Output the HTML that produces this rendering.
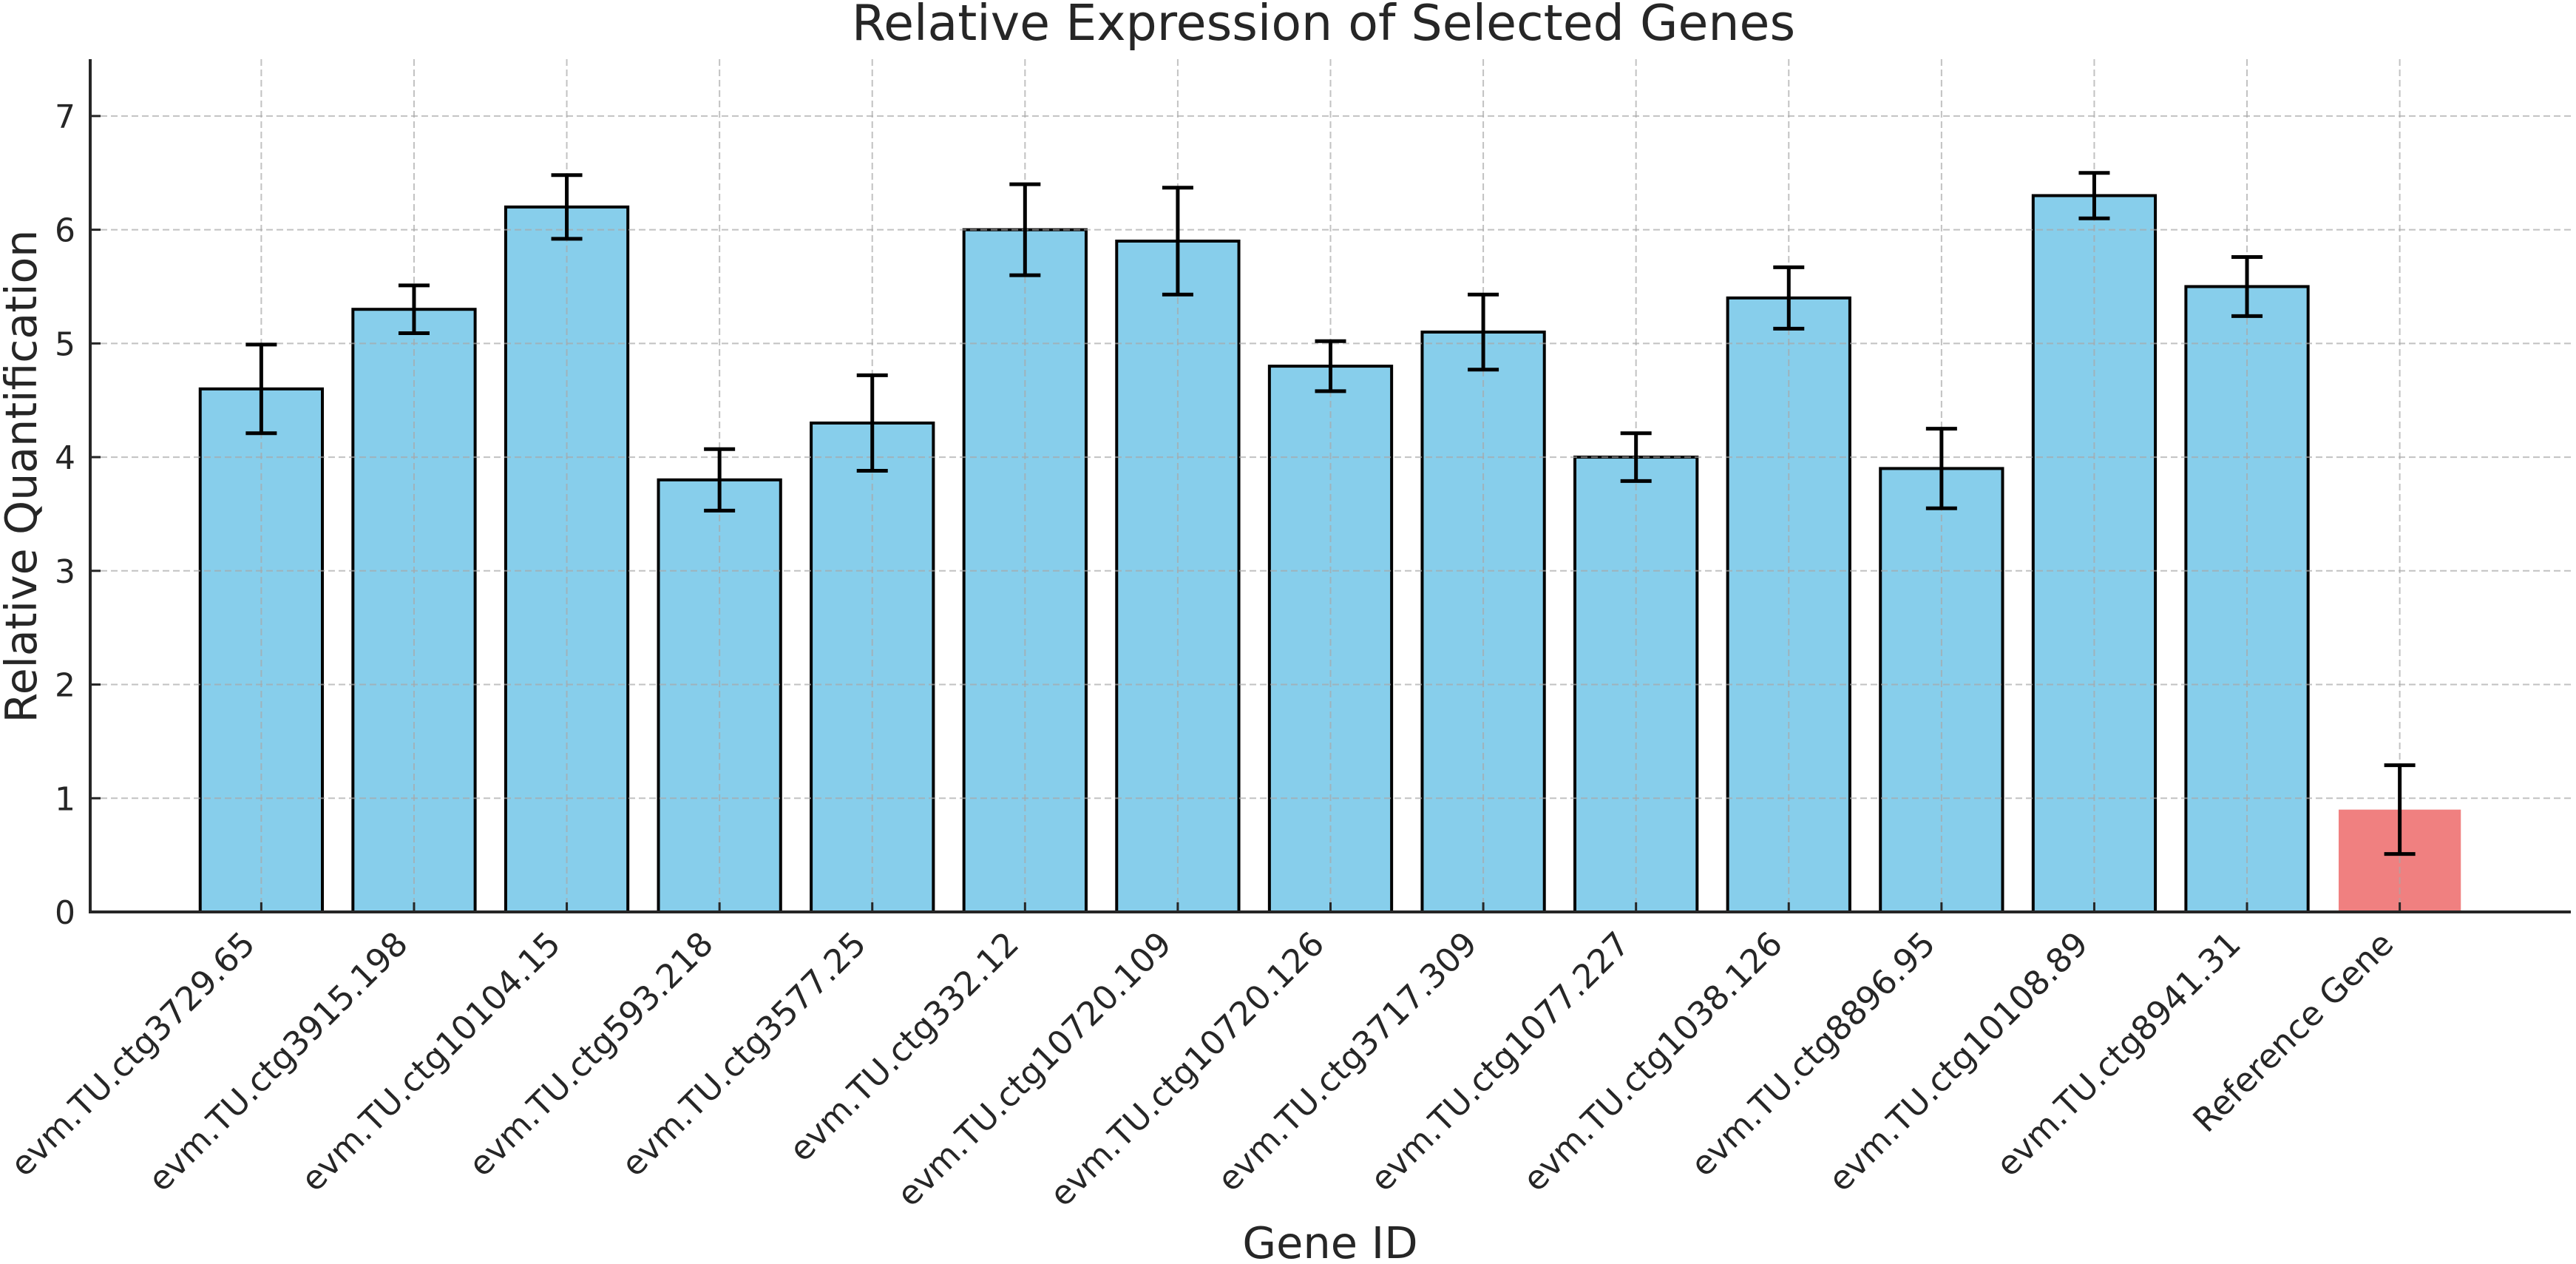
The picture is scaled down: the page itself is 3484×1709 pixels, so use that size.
<!DOCTYPE html>
<html><head><meta charset="utf-8"><style>
html,body{margin:0;padding:0;background:#fff;}
svg{display:block;font-family:"DejaVu Sans","Liberation Sans",sans-serif;}
</style></head><body>
<svg id="chart" width="3484" height="1709" viewBox="0 0 3484 1709" xmlns="http://www.w3.org/2000/svg">
<rect width="3484" height="1709" fill="#fff"/>
<text x="1790" y="54" font-size="66.5" text-anchor="middle" fill="#262626">Relative Expression of Selected Genes</text>
<text transform="translate(49,644) rotate(-90)" font-size="58.5" text-anchor="middle" fill="#262626">Relative Quantification</text>
<text x="1799" y="1701" font-size="59" text-anchor="middle" fill="#262626">Gene ID</text>
<g id="grid"></g><g id="bars"></g><g id="gridtop"></g><g id="errs"></g><g id="axes"></g><g id="labels"></g>
</svg>
<script>
const categories=["evm.TU.ctg3729.65","evm.TU.ctg3915.198","evm.TU.ctg10104.15","evm.TU.ctg593.218","evm.TU.ctg3577.25","evm.TU.ctg332.12","evm.TU.ctg10720.109","evm.TU.ctg10720.126","evm.TU.ctg3717.309","evm.TU.ctg1077.227","evm.TU.ctg1038.126","evm.TU.ctg8896.95","evm.TU.ctg10108.89","evm.TU.ctg8941.31","Reference Gene"];
const values=[4.6,5.3,6.2,3.8,4.3,6.0,5.9,4.8,5.1,4.0,5.4,3.9,6.3,5.5,0.9];
const errors=[0.39,0.21,0.28,0.27,0.42,0.4,0.47,0.22,0.33,0.21,0.27,0.35,0.2,0.26,0.39];
const yTicks=[0,1,2,3,4,5,6,7];
const NS="http://www.w3.org/2000/svg";
const X0=122,X1=3477,Y0=1233,YT=80,ymax=7.5,xmin=-1.12,xmax=15.12;
const xs=v=>X0+(v-xmin)/(xmax-xmin)*(X1-X0);
const ys=v=>Y0-v/ymax*(Y0-YT);
const bw=xs(0.8)-xs(0);
function mk(tag,attrs,parent,txt){const e=document.createElementNS(NS,tag);for(const k in attrs)e.setAttribute(k,attrs[k]);if(txt!==undefined)e.textContent=txt;document.getElementById(parent).appendChild(e);return e;}
yTicks.forEach(t=>{if(t===0)return;
 const g=mk('line',{x1:X0,x2:X1,y1:ys(t),y2:ys(t),stroke:'#a8a8a8','stroke-opacity':0.7,'stroke-width':2,'stroke-dasharray':'9,5'},'gridtop');
 
 });
categories.forEach((c,i)=>{
 const g=mk('line',{x1:xs(i),x2:xs(i),y1:YT,y2:Y0,stroke:'#a8a8a8','stroke-opacity':0.7,'stroke-width':2,'stroke-dasharray':'9,5'},'gridtop');
 
 });
categories.forEach((c,i)=>{
 const isRef=i===categories.length-1;
 const r=mk('rect',{x:xs(i)-bw/2,y:ys(values[i]),width:bw,height:Y0-ys(values[i]),fill:isRef?'#f08080':'#87ceeb',stroke:isRef?'none':'#000','stroke-width':isRef?0:4},'bars');
 
 
 const cx=xs(i),yt=ys(values[i]+errors[i]),yb=ys(values[i]-errors[i]);
 const e=mk('path',{d:`M${cx},${yt}V${yb}M${cx-21},${yt}H${cx+21}M${cx-21},${yb}H${cx+21}`,stroke:'#000','stroke-width':5,fill:'none'},'errs');
 
 
 const tk=mk('line',{x1:cx,x2:cx,y1:Y0,y2:Y0-13,stroke:'#262626','stroke-width':3},'axes');
 
 
 const ex=cx-6,ey=Y0+46;
 const l=mk('text',{transform:`translate(${ex},${ey}) rotate(-45)`,'text-anchor':'end','font-size':45,fill:'#262626'},'labels',c);
 
 
});
yTicks.forEach(t=>{
 const tk=mk('line',{x1:X0,x2:X0+14,y1:ys(t),y2:ys(t),stroke:'#262626','stroke-width':3},'axes');
 
 
 const l=mk('text',{x:X0-20,y:ys(t)+16,'text-anchor':'end','font-size':44,fill:'#262626'},'labels',String(t));
 
 
});
const ya=mk('line',{x1:X0,x2:X0,y1:YT,y2:Y0+2,stroke:'#262626','stroke-width':4},'axes');


const xa=mk('line',{x1:X0-2,x2:X1,y1:Y0,y2:Y0,stroke:'#262626','stroke-width':4},'axes');


</script>
</body></html>
